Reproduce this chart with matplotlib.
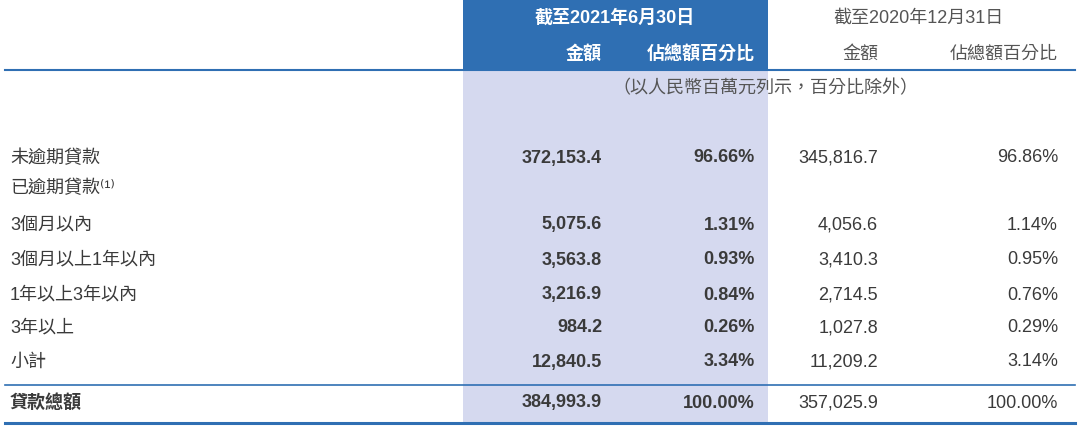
import matplotlib
matplotlib.use("Agg")
import matplotlib.pyplot as plt
from matplotlib.patches import Rectangle

plt.rcParams['font.family'] = ['Liberation Sans', 'Noto Sans CJK TC', 'DejaVu Sans']

labels = ["未逾期貸款", "已逾期貸款⁽¹⁾", "3個月以內", "3個月以上1年以內", "1年以上3年以內", "3年以上", "小計", "貸款總額"]
amt_2021 = ["372,153.4", "", "5,075.6", "3,563.8", "3,216.9", "984.2", "12,840.5", "384,993.9"]
pct_2021 = ["96.66%", "", "1.31%", "0.93%", "0.84%", "0.26%", "3.34%", "100.00%"]
amt_2020 = ["345,816.7", "", "4,056.6", "3,410.3", "2,714.5", "1,027.8", "11,209.2", "357,025.9"]
pct_2020 = ["96.86%", "", "1.14%", "0.95%", "0.76%", "0.29%", "3.14%", "100.00%"]
row_y = [158, 189, 225, 260, 295, 328, 362, 403]

blue = "#2f6fb3"
lav = "#d5d9ef"
txt = "#3a3a3a"

fig = plt.figure(figsize=(10.8, 4.3), dpi=100)
ax = fig.add_axes([0, 0, 1, 1])
ax.set_xlim(0, 1080); ax.set_ylim(430, 0); ax.axis("off")

ax.add_patch(Rectangle((463, 0), 305, 70, color=blue, lw=0))
ax.add_patch(Rectangle((463, 70), 305, 355, color=lav, lw=0))
ax.plot([5, 1075], [70, 70], color=blue, lw=1.5)
ax.plot([5, 1075], [385, 385], color=blue, lw=1.2)
ax.plot([5, 1075], [423, 423], color=blue, lw=2.2)

fs = 13
ax.text(615, 18, "截至2021年6月30日", color="white", fontsize=fs, fontweight="bold", ha="center", va="center")
ax.text(602, 54, "金額", color="white", fontsize=fs, fontweight="bold", ha="right", va="center")
ax.text(755, 54, "佔總額百分比", color="white", fontsize=fs, fontweight="bold", ha="right", va="center")
ax.text(918, 18, "截至2020年12月31日", color="#555", fontsize=fs, ha="center", va="center")
ax.text(878, 54, "金額", color="#555", fontsize=fs, ha="right", va="center")
ax.text(1058, 54, "佔總額百分比", color="#555", fontsize=fs, ha="right", va="center")
ax.text(765, 89, "（以人民幣百萬元列示，百分比除外）", color="#555", fontsize=fs, ha="center", va="center")

for i, y in enumerate(row_y):
    last = (i == len(row_y) - 1)
    ax.text(10, y, labels[i], color=txt, fontsize=fs, ha="left", va="center",
            fontweight="bold" if last else "normal")
    ax.text(602, y, amt_2021[i], color=txt, fontsize=fs, ha="right", va="center", fontweight="bold")
    ax.text(755, y, pct_2021[i], color=txt, fontsize=fs, ha="right", va="center", fontweight="bold")
    ax.text(878, y, amt_2020[i], color=txt, fontsize=fs, ha="right", va="center")
    ax.text(1058, y, pct_2020[i], color=txt, fontsize=fs, ha="right", va="center")

fig.savefig("out.png", dpi=100, facecolor="white")
